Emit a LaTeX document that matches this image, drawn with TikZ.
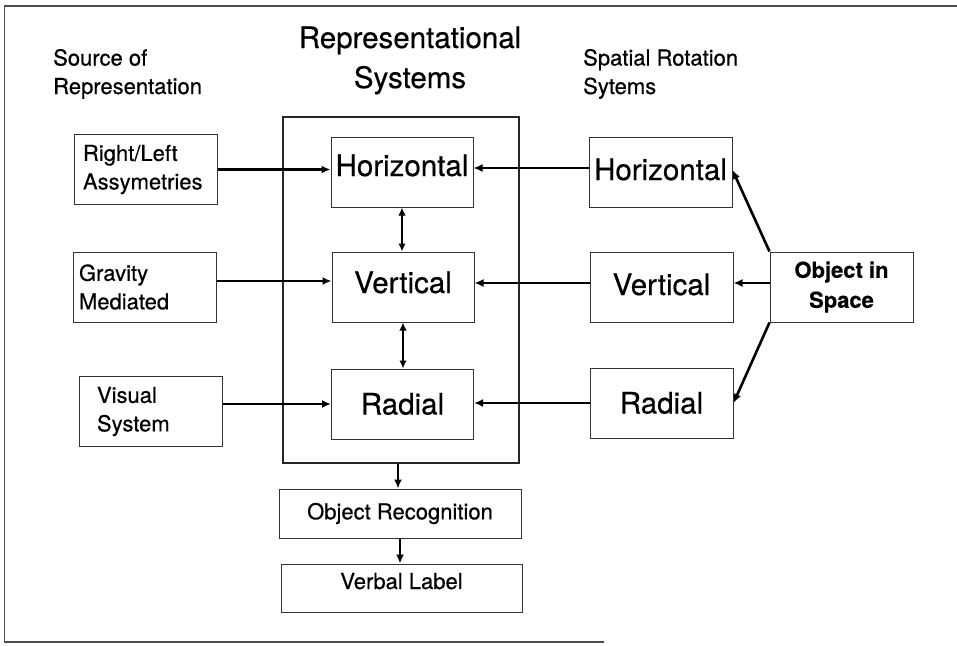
\documentclass[tikz,border=0pt]{standalone}
\usepackage{fontspec}
\setmainfont{TeX Gyre Heros}[FakeBold=0.5]
\usetikzlibrary{arrows.meta}
\begin{document}
\begin{tikzpicture}[x=1pt,y=-1pt,
  box/.style={draw=black!80, line width=1pt, inner sep=0pt, minimum width=143pt, minimum height=70pt},
  small/.style={font=\fontsize{22}{28.5}\selectfont},
  big/.style={font=\fontsize{29.5}{36}\selectfont, text height=21pt},
  conn/.style={line width=2.6pt, -{Latex[length=9pt,width=8pt]}},
  both/.style={line width=2.6pt, {Latex[length=8pt,width=7.5pt]}-{Latex[length=8pt,width=7.5pt]}},
  frame/.style={draw=black!70, line width=1.3pt}]
\useasboundingbox (0,0) rectangle (957,645);
% outer frame
\coordinate (f1) at (957,6);
\coordinate (f2) at (4.5,6);
\coordinate (f3) at (4.5,642);
\coordinate (f4) at (604,642);
\draw[frame] (f1) -- (f2) -- (f3) -- (f4);
% headings (base anchor = last line's baseline)
\node[small, align=left, anchor=base west, inner sep=0pt] (src) at (53,94) {Source of\\Representation};
\node[font=\fontsize{29.5}{40}\selectfont, align=center, anchor=base, inner sep=0pt] (title) at (410,88) {Representational\\Systems};
\node[small, align=left, anchor=base west, inner sep=0pt] (spr) at (583,94) {Spatial Rotation\\Sytems};
% left column
\node[box, small, align=left, text width=125pt, inner xsep=9pt] (rl) at (145.5,169.5) {Right/Left\\Assymetries};
\node[box, small, align=left, text width=131pt, inner xsep=6pt] (gm) at (144.5,287) {Gravity\\Mediated};
\node[box, small, align=left, text width=107pt, inner xsep=18pt] (vs) at (150.5,411.5) {Visual\\System};
% container
\node[draw=black!85, line width=1.1pt, minimum width=236pt, minimum height=346pt, inner sep=0pt] (rs) at (401,290) {};
% middle column
\node[box, big, minimum width=142pt, text depth=13pt] (lh) at (402,172) {Horizontal};
\node[box, big, minimum width=142pt, text depth=9pt] (lv) at (403,287) {Vertical};
\node[box, big, minimum width=142pt, text depth=0pt] (lr) at (402.5,404) {Radial};
% right column
\node[box, big, text depth=5pt] (rh) at (660.5,172) {Horizontal};
\node[box, big, text depth=5pt] (rv) at (661.5,287) {Vertical};
\node[box, big, text depth=0pt] (rr) at (661.5,403) {Radial};
\node[box, font=\bfseries\fontsize{22}{30}\selectfont, align=center] (obj) at (841.5,287) {Object in\\Space};
% bottom
\node[box, small, minimum width=242pt, minimum height=49pt] (orc) at (400,513.5) {Object Recognition};
\node[box, small, minimum width=241pt, minimum height=48pt, text height=16pt, text depth=14pt] (vl) at (401.5,588) {Verbal Label};
% connectors
\draw[conn] (rl.east) -- (rl.east -| lh.west);
\draw[conn] ([yshift=6pt]gm.east) -- ([yshift=6pt]gm.east -| lv.west);
\draw[conn] ([yshift=7.5pt]vs.east) -- ([yshift=7.5pt]vs.east -| lr.west);
\draw[conn] ([yshift=4pt]rh.west) -- ([yshift=4pt]lh.east);
\draw[conn] ([yshift=4pt]rv.west) -- ([yshift=4pt]lv.east);
\draw[conn] (rr.west) -- (rr.west -| lr.east);
\draw[conn] ([yshift=4pt]obj.west) -- ([yshift=4pt]rv.east);
\draw[conn] (obj.north west) -- ([yshift=2pt]rh.east);
\draw[conn] (obj.south west) -- (rr.east);
\draw[both] (lh.south) -- (lh.south |- lv.north);
\draw[both] (lv.south) -- (lv.south |- lr.north);
\draw[conn] ([xshift=-3pt]rs.south) -- ([xshift=-3pt]rs.south |- orc.north);
\draw[conn] (orc.south) -- (orc.south |- vl.north);
\end{tikzpicture}
\end{document}
